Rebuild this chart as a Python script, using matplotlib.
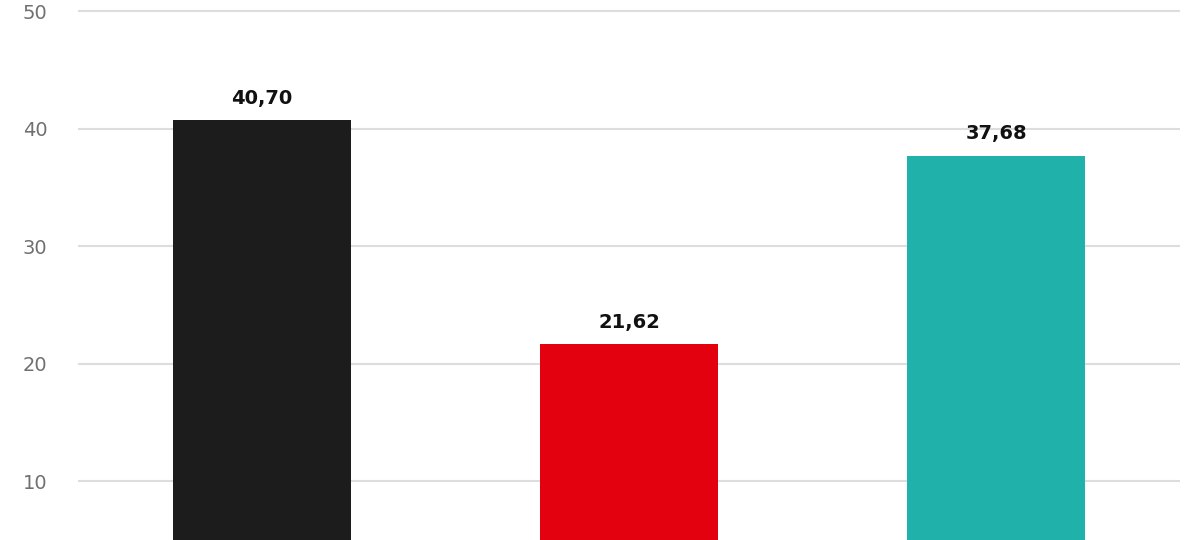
import numpy as np
import matplotlib.pyplot as plt

categories = ['A', 'B', 'C']
values = [40.70, 21.62, 37.68]
colors = ['#1c1c1c', '#e3000f', '#20b2aa']
yticks = [10, 20, 30, 40, 50]

fig = plt.figure(figsize=(12, 5.4), dpi=100)
ax = fig.add_axes([78 / 1200, 0, 1102 / 1200, 1])

x = np.arange(len(categories))
bars = ax.bar(x, values, width=0.485, color=colors, zorder=2)

for xi, v in zip(x, values):
    ax.annotate(f'{v:.2f}'.replace('.', ','), (xi, v), xytext=(0, 9),
                textcoords='offset points', ha='center', va='bottom',
                fontsize=14, fontweight='bold', color='#111111')

ax.set_xlim(-0.5, 2.5)
ax.set_ylim(4.98, 50.94)
ax.set_yticks(yticks)
ax.set_xticks([])
ax.grid(axis='y', color='#dddddd', linewidth=1.5, zorder=0)
ax.tick_params(axis='y', length=0, pad=22, labelsize=14, labelcolor='#707070')
for s in ax.spines.values():
    s.set_visible(False)

fig.savefig('out.png', dpi=100)
